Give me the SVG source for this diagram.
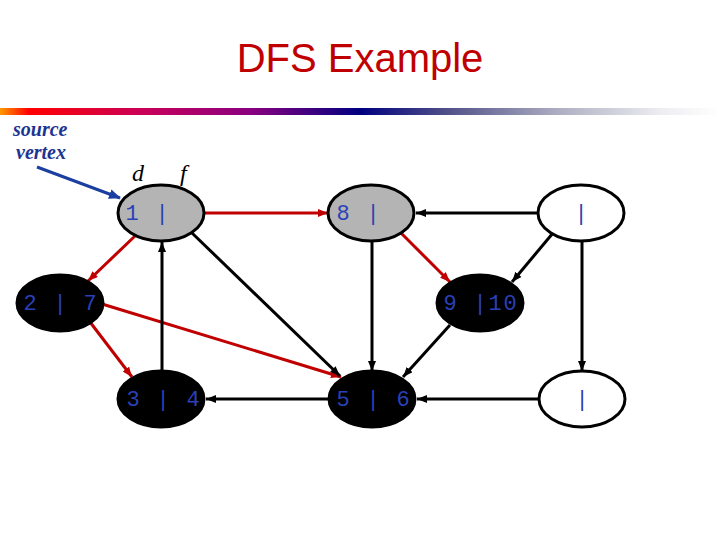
<svg xmlns="http://www.w3.org/2000/svg" width="720" height="540" viewBox="0 0 720 540">
<defs>
<linearGradient id="bar" x1="0" y1="0" x2="1" y2="0">
<stop offset="0" stop-color="#ff9900"/>
<stop offset="0.04" stop-color="#ff0000"/>
<stop offset="0.2" stop-color="#c8005a"/>
<stop offset="0.35" stop-color="#880080"/>
<stop offset="0.5" stop-color="#000080"/>
<stop offset="0.62" stop-color="#505088"/>
<stop offset="0.78" stop-color="#b0b0c4"/>
<stop offset="0.92" stop-color="#eeeef2"/>
<stop offset="1" stop-color="#ffffff"/>
</linearGradient>
<marker id="ab" markerUnits="userSpaceOnUse" markerWidth="10" markerHeight="8" refX="10" refY="4" orient="auto"><path d="M0,0 L10,4 L0,8 z" fill="#000"/></marker>
<marker id="ar" markerUnits="userSpaceOnUse" markerWidth="10" markerHeight="8" refX="10" refY="4" orient="auto"><path d="M0,0 L10,4 L0,8 z" fill="#c00000"/></marker>
<marker id="au" markerUnits="userSpaceOnUse" markerWidth="12" markerHeight="10" refX="11" refY="5" orient="auto"><path d="M0,0 L12,5 L0,10 z" fill="#1a3fa0"/></marker>
</defs>
<style>
.node{stroke:#000;stroke-width:3}
.grey{fill:#b4b4b4}
.white{fill:#fff}
.black{fill:#000}
.lbl{font-family:"Liberation Mono",monospace;font-size:22px;letter-spacing:1.8px;fill:#2a40b8}
.e{fill:none;stroke:#000;stroke-width:3;marker-end:url(#ab)}
.r{fill:none;stroke:#c00000;stroke-width:3;marker-end:url(#ar)}
.it{font-family:"Liberation Serif",serif;font-style:italic;font-size:24px;fill:#000}
.src{font-family:"Liberation Serif",serif;font-style:italic;font-weight:bold;font-size:20px;fill:#1c3494}
</style>
<text x="360" y="72" text-anchor="middle" font-family="Liberation Sans, Arial, sans-serif" font-size="40" fill="#c00000">DFS Example</text>
<rect x="0" y="108" width="720" height="7" fill="url(#bar)"/>
<g id="source-label">
<text class="src" x="13" y="136">source</text>
<text class="src" x="16" y="159">vertex</text>
<line x1="37" y1="167" x2="120" y2="198" stroke="#1a3fa0" stroke-width="3" marker-end="url(#au)"/>
</g>
<g id="df-label">
<text class="it" x="132" y="181">d</text>
<text class="it" x="180" y="181">f</text>
</g>
<g id="edges">
<line class="r" x1="204" y1="213" x2="328" y2="213"/>
<line class="e" x1="538" y1="213" x2="416" y2="213"/>
<line class="r" x1="135" y1="236" x2="88" y2="281"/>
<line class="r" x1="90" y1="322" x2="132" y2="377"/>
<line class="r" x1="102" y1="304" x2="341" y2="377"/>
<line class="e" x1="162" y1="371" x2="162" y2="242"/>
<line class="e" x1="192" y1="233" x2="340" y2="376"/>
<line class="e" x1="372" y1="241" x2="372" y2="371"/>
<line class="r" x1="400" y1="232" x2="450" y2="282"/>
<line class="e" x1="553" y1="233" x2="512" y2="282"/>
<line class="e" x1="450" y1="325" x2="403" y2="377"/>
<line class="e" x1="582" y1="241" x2="582" y2="371"/>
<line class="e" x1="330" y1="399" x2="206" y2="399"/>
<line class="e" x1="540" y1="399" x2="417" y2="399"/>
</g>
<g id="n1"><ellipse class="node grey" cx="161" cy="213" rx="43" ry="28"/><text class="lbl" x="125.5" y="220">1 |</text></g>
<g id="n8"><ellipse class="node grey" cx="371" cy="213" rx="43" ry="28"/><text class="lbl" x="336.5" y="220">8 |</text></g>
<g id="nC"><ellipse class="node white" cx="581" cy="213" rx="43" ry="28"/><text class="lbl" x="582" y="220" text-anchor="middle" letter-spacing="0">|</text></g>
<g id="n2"><ellipse class="node black" cx="60" cy="303" rx="43" ry="28"/><text class="lbl" x="23.5" y="310">2 | 7</text></g>
<g id="n9"><ellipse class="node black" cx="480" cy="303" rx="43" ry="28"/><text class="lbl" x="443.5" y="310">9 |10</text></g>
<g id="n3"><ellipse class="node black" cx="161" cy="399" rx="43" ry="28"/><text class="lbl" x="126.5" y="406">3 | 4</text></g>
<g id="n5"><ellipse class="node black" cx="372" cy="399" rx="43" ry="28"/><text class="lbl" x="336.5" y="406">5 | 6</text></g>
<g id="nH"><ellipse class="node white" cx="582" cy="399" rx="43" ry="28"/><text class="lbl" x="583" y="406" text-anchor="middle" letter-spacing="0">|</text></g>
</svg>
